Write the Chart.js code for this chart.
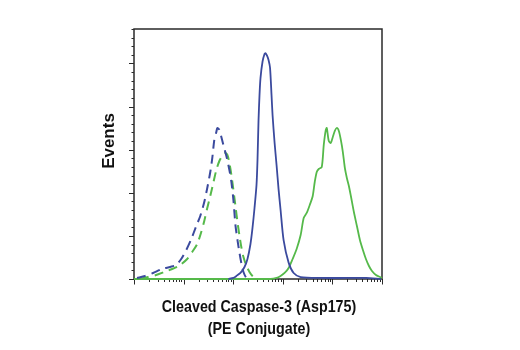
<!DOCTYPE html>
<html>
<head>
<meta charset="utf-8">
<script src="https://cdn.jsdelivr.net/npm/chart.js@4/dist/chart.umd.min.js"></script>
<style>
  html, body { margin: 0; padding: 0; background: #fff; }
  canvas { display: block; }
</style>
</head>
<body>
<canvas id="chart" width="520" height="350"></canvas>
<script>
// Fluorescence intensity (log channel) and event counts per histogram
const untreatedBlueX = [1.15, 1.67, 2.42, 3.69, 5.35, 7.08, 8.94, 11.3, 14.3, 18.0, 21.7, 26.1, 30.0, 34.5, 37.9, 41.6, 45.7, 47.9, 52.6, 57.7, 63.4, 72.8, 83.8, 92.0, 101, 111, 122, 134, 147, 161, 185, 223];
const untreatedBlueY = [1.2, 3.5, 7, 11.6, 14, 16.2, 23.2, 33.6, 46.4, 61.5, 73.1, 89.3, 105.6, 124.1, 140.4, 161.3, 170.5, 175.2, 172.9, 164.7, 155.5, 142.7, 126.5, 112.5, 91.6, 62.6, 45.2, 30.2, 17.4, 8.1, 1.2, 0];

const untreatedGreenX = [1.32, 1.92, 2.79, 4.05, 5.88, 8.53, 11.8, 14.9, 18.8, 22.7, 26.1, 30.0, 34.5, 39.7, 45.7, 52.6, 60.4, 69.5, 76.3, 83.8, 92.0, 101, 111, 122, 134, 147, 161, 185, 213, 245, 295];
const untreatedGreenY = [0, 2.3, 4.6, 8.1, 11.6, 16.2, 23.2, 31.3, 40.6, 54.5, 67.3, 82.4, 96.3, 111.4, 126.5, 136.9, 142.7, 146.2, 143.9, 134.6, 120.6, 103.2, 84.7, 66.1, 49.9, 35.9, 25.5, 15.1, 8.1, 3.5, 0];

const treatedBlueX = [80, 101, 116, 140, 169, 194, 223, 245, 269, 295, 309, 324, 339, 355, 390, 428, 449, 481, 516, 553, 593, 622, 683, 749, 822, 902, 1038, 1310, 1655, 2291, 5821, 18660, 47420, 95500];
const treatedBlueY = [0, 1.2, 3.5, 7, 13.9, 23.2, 40.6, 59.2, 82.4, 109, 138, 184, 213, 233, 252, 261, 262, 259, 254, 245, 213, 190, 158, 132, 104, 80, 45, 19, 7, 2.3, 1.2, 1.2, 1.2, 0];

const treatedGreenX = [1, 566, 749, 902, 1087, 1310, 1578, 1901, 2291, 2637, 3034, 3491, 4013, 4406, 4834, 5309, 6102, 6698, 7351, 7708, 8458, 9290, 10190, 11190, 12280, 13490, 14800, 16250, 17830, 19560, 21480, 23570, 27110, 31190, 35890, 41210, 47420, 54560, 62780, 75620, 91120, 100000];
const treatedGreenY = [0, 0, 1.2, 3.5, 7, 12.8, 23.2, 34.8, 51, 70.8, 76.6, 85.8, 96.3, 112.5, 124.1, 127.6, 129.9, 155.5, 172.9, 175.2, 160, 157.8, 164.7, 171.7, 175.2, 171.7, 161.3, 147.3, 128.8, 117.2, 107.9, 96.3, 77.7, 61.5, 45.2, 33.6, 23.2, 15.1, 9.3, 4.6, 2.3, 1.2];

// Axis ranges and tick spacing
const xDecades = [1, 10, 100, 1000, 10000, 100000];
const yMax = 290;
const yMinorStep = 10;
const yMajorStep = 50;

const xTitleLines = ['Cleaved Caspase-3 (Asp175)', '(PE Conjugate)'];
const yTitle = 'Events';

const BLUE = '#3b4a9e';
const GREEN = '#55b94a';
const INK = '#2a2a2a';
const TITLE_FONT = 'bold 17px "Liberation Sans", Arial, sans-serif';
const NARROW = 0.84; // horizontal squeeze giving a condensed face

const toPoints = (xs, ys) => xs.map((x, i) => ({ x, y: ys[i] }));

function narrowText(ctx, text, x, y, squeeze) {
  ctx.save();
  ctx.translate(x, y);
  ctx.scale(squeeze, 1);
  ctx.fillText(text, 0, 0);
  ctx.restore();
}

// Frame, outward tick marks and the two axis titles
const frameTicksTitles = {
  id: 'frameTicksTitles',
  beforeDatasetsDraw(chart) {
    const { ctx, chartArea: a, scales: { x, y } } = chart;
    ctx.save();
    ctx.strokeStyle = INK;
    ctx.lineWidth = 1.5;
    ctx.strokeRect(a.left, a.top, a.right - a.left, a.bottom - a.top);

    ctx.lineWidth = 1;
    ctx.beginPath();
    for (let v = 0; v <= yMax; v += yMinorStep) {
      const py = Math.round(y.getPixelForValue(v)) + 0.5;
      const len = v % yMajorStep === 0 ? 5 : 2.5;
      ctx.moveTo(a.left, py);
      ctx.lineTo(a.left - len, py);
    }
    xDecades.forEach((d, i) => {
      for (let k = 1; k <= 9; k++) {
        const v = d * k;
        if (i === xDecades.length - 1 && k > 1) break;
        const px = Math.round(x.getPixelForValue(v)) + 0.5;
        const len = k === 1 ? 5.5 : 3;
        ctx.moveTo(px, a.bottom);
        ctx.lineTo(px, a.bottom + len);
      }
    });
    ctx.stroke();
    ctx.restore();
  },
  afterDraw(chart) {
    const { ctx, chartArea: a } = chart;
    ctx.save();
    ctx.fillStyle = '#111';
    ctx.font = TITLE_FONT;
    ctx.textAlign = 'center';
    ctx.textBaseline = 'alphabetic';
    const cx = (a.left + a.right) / 2 + 1;
    narrowText(ctx, xTitleLines[0], cx, a.bottom + 33, NARROW);
    narrowText(ctx, xTitleLines[1], cx, a.bottom + 54.5, NARROW);

    ctx.translate(a.left - 25, a.top + 112);
    ctx.rotate(-Math.PI / 2);
    ctx.textBaseline = 'middle';
    ctx.fillText(yTitle, 0, 0);
    ctx.restore();
  }
};

const lineStyle = (color, dashed) => ({
  borderColor: color,
  backgroundColor: color,
  borderWidth: dashed ? 2 : 1.8,
  borderDash: dashed ? [9, 6] : [],
  pointRadius: 0,
  tension: 0.25,
  fill: false,
  clip: 3
});

new Chart(document.getElementById('chart'), {
  type: 'line',
  data: {
    datasets: [
      { label: 'Treated (blue)', data: toPoints(treatedBlueX, treatedBlueY), ...lineStyle(BLUE, false) },
      { label: 'Untreated (blue)', data: toPoints(untreatedBlueX, untreatedBlueY), ...lineStyle(BLUE, true) },
      { label: 'Treated (green)', data: toPoints(treatedGreenX, treatedGreenY), ...lineStyle(GREEN, false) },
      { label: 'Untreated (green)', data: toPoints(untreatedGreenX, untreatedGreenY), ...lineStyle(GREEN, true) }
    ]
  },
  options: {
    responsive: false,
    animation: false,
    devicePixelRatio: 1,
    layout: { padding: { left: 134, top: 29, right: 138, bottom: 71 } },
    plugins: { legend: { display: false }, tooltip: { enabled: false } },
    scales: {
      x: { type: 'logarithmic', min: xDecades[0], max: xDecades[xDecades.length - 1], display: false },
      y: { type: 'linear', min: 0, max: yMax, display: false }
    }
  },
  plugins: [frameTicksTitles]
});
</script>
</body>
</html>
